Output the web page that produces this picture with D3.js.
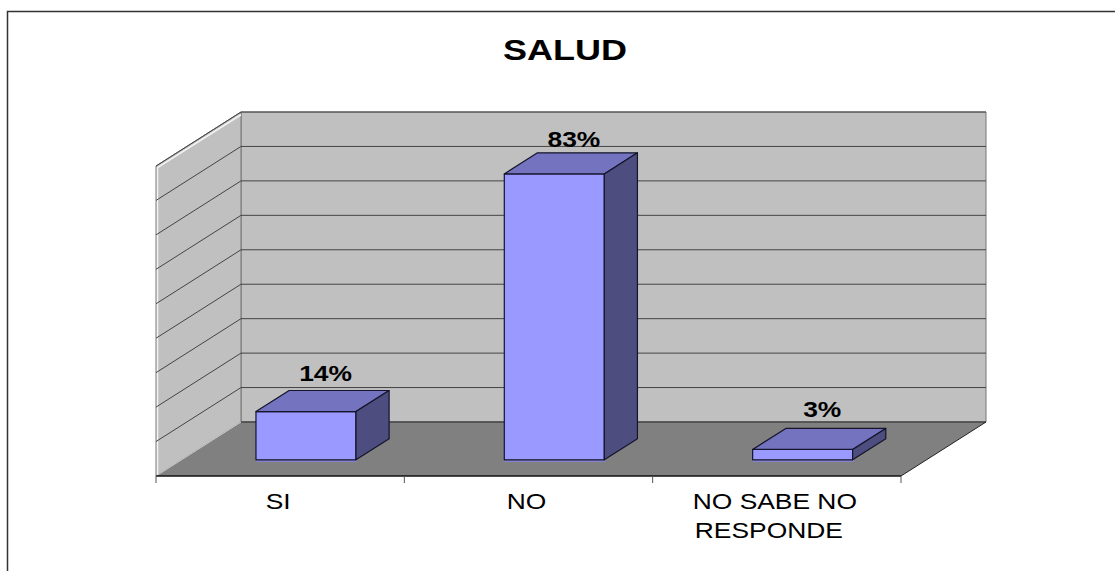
<!DOCTYPE html>
<html>
<head>
<meta charset="utf-8">
<script src="https://cdn.jsdelivr.net/npm/d3@7"></script>
<style>
html, body { margin: 0; padding: 0; background: #fff; }
svg { display: block; }
text { font-family: "Liberation Sans", Arial, sans-serif; fill: #000; }
</style>
</head>
<body>
<svg width="1115" height="571"></svg>
<script>
var categories = [["SI"], ["NO"], ["NO SABE NO", "RESPONDE"]];
var values = [14, 83, 3];
var valueLabels = ["14%", "83%", "3%"];
var gridTicks = [10, 20, 30, 40, 50, 60, 70, 80, 90];

var svg = d3.select("svg");

// front edge of the box, the walls are this shifted back by depth
var depth = {x: 85, y: -54};
var x = d3.scaleBand().domain([0, 1, 2]).range([156, 901]);
var y = d3.scaleLinear().domain([0, 90]).range([476, 166]);

// the original picture is stretched sideways, text too
var textStretch = 1.2;

// d = how far back in the box, 0 front, 1 back wall
function project(px, v, d) {
  return [px + d * depth.x, y(v) + d * depth.y];
}
var poly = d3.line();

var left = x.range()[0], right = x.range()[1];

// chart frame, cut by the window on the right and bottom
svg.append("path")
    .attr("d", "M7.5,571V11.5H1115")
    .attr("fill", "none")
    .attr("stroke", "#333")
    .attr("stroke-width", 1.5);

svg.append("text")
    .attr("transform", "translate(565,59.5) scale(" + textStretch + ",1)")
    .attr("text-anchor", "middle")
    .attr("font-weight", "bold")
    .attr("font-size", 30)
    .text("SALUD");

// back wall
svg.append("path")
    .attr("d", poly([project(left, 0, 1), project(left, 90, 1), project(right, 90, 1), project(right, 0, 1)]) + "Z")
    .attr("fill", "#c0c0c0")
    .attr("stroke", "#777");

// side wall
svg.append("path")
    .attr("d", poly([project(left, 0, 0), project(left, 90, 0), project(left, 90, 1), project(left, 0, 1)]) + "Z")
    .attr("fill", "#c0c0c0")
    .attr("stroke", "#777");

// white highlight along the side wall edges
svg.append("path")
    .attr("d", poly([project(left + 1.5, 0, 0), project(left + 1.5, 89.5, 0), project(left, 89.2, 1)]))
    .attr("fill", "none")
    .attr("stroke", "#f4f4f4")
    .attr("stroke-width", 1.5);

// floor
svg.append("path")
    .attr("d", poly([project(left, 0, 0), project(left, 0, 1), project(right, 0, 1), project(right, 0, 0)]) + "Z")
    .attr("fill", "#808080")
    .attr("stroke", "none");

svg.append("path")
    .attr("d", poly([project(left, 0, 0), project(left, 0, 1)]))
    .attr("fill", "none")
    .attr("stroke", "#ccc");

var grid = svg.append("g")
    .attr("fill", "none")
    .attr("stroke", "#444");

gridTicks.forEach(function(t) {
  grid.append("path").attr("d", poly([project(left, t, 0), project(left, t, 1), project(right, t, 1)]));
});
grid.append("path")
    .attr("stroke-width", 1.4)
    .attr("d", poly([project(left, 0, 1), project(right, 0, 1)]));
grid.append("path")
    .attr("stroke", "#222")
    .attr("d", poly([project(right, 0, 1), project(right, 0, 0)]));

// front floor edge and the tick marks between categories
var axis = svg.append("g");
axis.append("line")
    .attr("x1", left).attr("x2", right)
    .attr("y1", y(0)).attr("y2", y(0))
    .attr("stroke", "#111")
    .attr("stroke-width", 1.5);
axis.selectAll(".edge")
    .data(d3.range(4))
    .enter().append("line")
    .attr("class", "edge")
    .attr("x1", function(d) { return left + d * x.step(); })
    .attr("x2", function(d) { return left + d * x.step(); })
    .attr("y1", y(0))
    .attr("y2", y(0) + 7)
    .attr("stroke", "#555");

// bars sit in the middle of the floor depth
var barFront = 0.3, barBack = 0.69, barWidth = 100;

var bar = svg.selectAll(".bar")
    .data(values)
    .enter().append("g")
    .attr("class", "bar")
    .attr("stroke", "#14142a")
    .attr("stroke-width", 1.2)
    .attr("stroke-linejoin", "round");

function barLeft(i) {
  return x(i) + x.bandwidth() / 2 - barWidth / 2 + 0.3;
}

// lilac rim showing under the bottom edge of each bar
bar.append("path")
    .attr("fill", "none")
    .attr("stroke", "#8484ee")
    .attr("stroke-width", 1.5)
    .attr("d", function(v, i) {
      var a = project(barLeft(i), 0, barFront);
      return poly([[a[0], a[1] + 1.2], [a[0] + barWidth + 1, a[1] + 1.2]]);
    });

bar.append("path") // front
    .attr("fill", "#9999ff")
    .attr("d", function(v, i) {
      var a = barLeft(i), b = a + barWidth;
      return poly([project(a, 0, barFront), project(a, v, barFront), project(b, v, barFront), project(b, 0, barFront)]) + "Z";
    });

bar.append("path") // top
    .attr("fill", "#7373bf")
    .attr("d", function(v, i) {
      var a = barLeft(i), b = a + barWidth;
      return poly([project(a, v, barFront), project(a, v, barBack), project(b, v, barBack), project(b, v, barFront)]) + "Z";
    });

bar.append("path") // side
    .attr("fill", "#4d4d80")
    .attr("d", function(v, i) {
      var b = barLeft(i) + barWidth;
      return poly([project(b, 0, barFront), project(b, v, barFront), project(b, v, barBack), project(b, 0, barBack)]) + "Z";
    });

// gap between label baseline and the back edge of the bar top
var labelGap = [10, 6, 11];

svg.selectAll(".value")
    .data(values)
    .enter().append("text")
    .attr("class", "value")
    .attr("transform", function(v, i) {
      var lx = project(barLeft(i) + barWidth / 2, v, (barFront + barBack) / 2)[0] + 3,
          ly = project(0, v, barBack)[1] - labelGap[i];
      return "translate(" + lx + "," + ly + ") scale(" + textStretch + ",1)";
    })
    .attr("text-anchor", "middle")
    .attr("font-weight", "bold")
    .attr("font-size", 22)
    .text(function(v, i) { return valueLabels[i]; });

var catLabel = svg.selectAll(".cat")
    .data(categories)
    .enter().append("text")
    .attr("class", "cat")
    .attr("transform", function(d, i) {
      return "translate(" + (x(i) + x.bandwidth() / 2 - 2) + ",0) scale(" + textStretch + ",1)";
    })
    .attr("text-anchor", "middle")
    .attr("font-size", 22);

// second line sits a little left of centre in the original
catLabel.selectAll("tspan")
    .data(function(d) { return d; })
    .enter().append("tspan")
    .attr("x", function(d, j) { return j * -5; })
    .attr("y", function(d, j) { return 509 + j * 29; })
    .text(function(d) { return d; });
</script>
</body>
</html>
